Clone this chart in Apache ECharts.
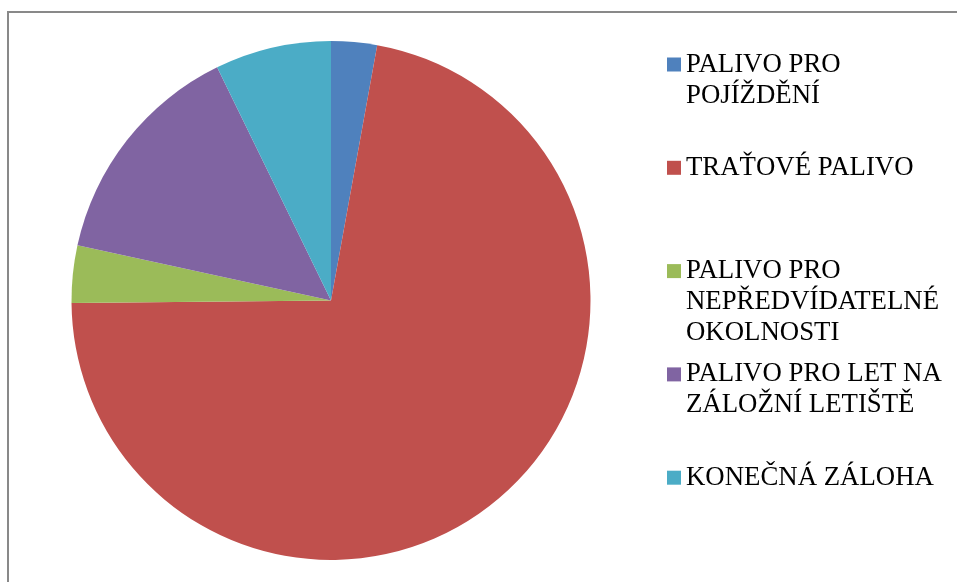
<!DOCTYPE html>
<html>
<head>
<meta charset="utf-8">
<script src="https://cdn.jsdelivr.net/npm/echarts@6/dist/echarts.min.js"></script>
<style>
  html, body { margin: 0; padding: 0; background: #fff; }
  #palivo { width: 957px; height: 582px; }
</style>
</head>
<body>
<div id="palivo"></div>
<script>
// fuel components (share of total, %)
var names = [
    'PALIVO PRO POJÍŽDĚNÍ',
    'TRAŤOVÉ PALIVO',
    'PALIVO PRO NEPŘEDVÍDATELNÉ OKOLNOSTI',
    'PALIVO PRO LET NA ZÁLOŽNÍ LETIŠTĚ',
    'KONEČNÁ ZÁLOHA'
];
var values = [2.85, 72.0, 3.57, 14.35, 7.23];
// how the legend text wraps
var legendLines = {
    'PALIVO PRO POJÍŽDĚNÍ': ['PALIVO PRO', 'POJÍŽDĚNÍ'],
    'TRAŤOVÉ PALIVO': ['TRAŤOVÉ PALIVO'],
    'PALIVO PRO NEPŘEDVÍDATELNÉ OKOLNOSTI': ['PALIVO PRO', 'NEPŘEDVÍDATELNÉ', 'OKOLNOSTI'],
    'PALIVO PRO LET NA ZÁLOŽNÍ LETIŠTĚ': ['PALIVO PRO LET NA', 'ZÁLOŽNÍ LETIŠTĚ'],
    'KONEČNÁ ZÁLOHA': ['KONEČNÁ ZÁLOHA']
};
var colors = ['#4F81BD', '#C0504D', '#9BBB59', '#8064A2', '#4BACC6'];

var palivo = echarts.init(document.getElementById('palivo'));

var pieData = names.map(function (n, i) {
    return {name: n, value: values[i]};
});

var palivo_option = {
    animation: false,
    color: colors,
    graphic: [
        {
            type: 'rect',
            shape: {x: 8, y: 12, width: 1200, height: 1000},
            style: {fill: 'none', stroke: '#898989', lineWidth: 2},
            silent: true
        }
    ],
    legend: {
        orient: 'vertical',
        left: 667,
        top: -13,
        padding: 0,
        itemWidth: 14,
        itemHeight: 14,
        itemGap: -51.7,
        icon: 'rect',
        selectedMode: false,
        data: names,
        // first line sits in the middle of a 5 line block so the marker lines up with it
        formatter: function (name) {
            var l = legendLines[name].slice();
            var out = ['', ''].concat(l);
            while (out.length < 5) { out.push(''); }
            return out.join('\n');
        },
        textStyle: {
            fontFamily: 'Liberation Serif',
            fontSize: 26.8,
            lineHeight: 31,
            color: '#000'
        }
    },
    series: [
        {
            type: 'pie',
            center: [331, 300.5],
            radius: 259.5,
            startAngle: 90,
            clockwise: true,
            label: {show: false},
            labelLine: {show: false},
            emphasis: {disabled: true},
            data: pieData
        }
    ]
};

palivo.setOption(palivo_option);
</script>
</body>
</html>
